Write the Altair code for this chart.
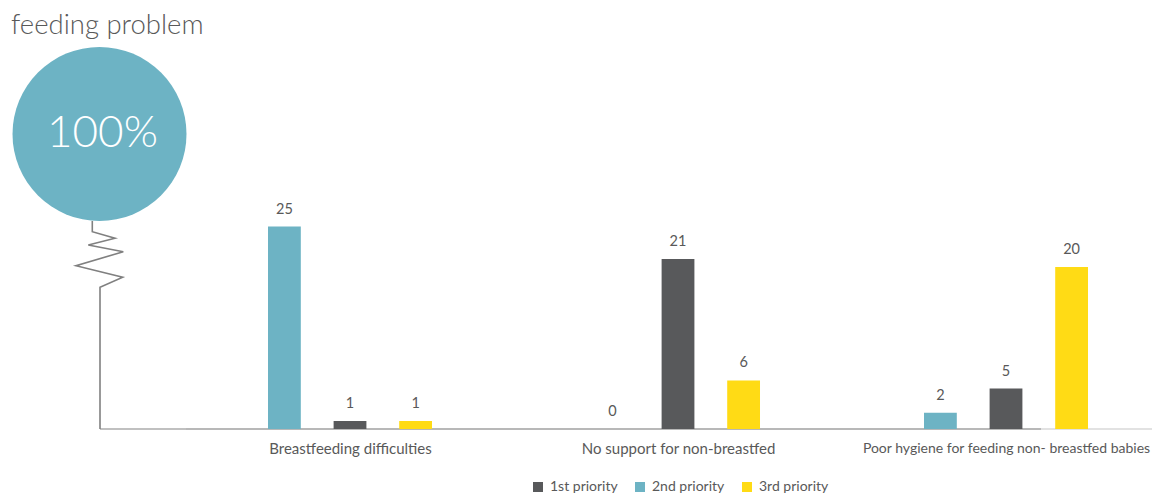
import altair as alt
import pandas as pd

# ---------------- data ----------------
categories = [
    "Breastfeeding difficulties",
    "No support for non-breastfed",
    "Poor hygiene for feeding non- breastfed babies",
]
priorities = ["1st priority", "2nd priority", "3rd priority"]
first_priority = [1, 21, 5]
second_priority = [25, 0, 2]
third_priority = [1, 6, 20]
title_text = "feeding problem"
badge_text = "100%"

# decorative "balloon" (circle + spring) in page pixel units
spring_x = [92.3, 92.3, 115, 88.3, 123.3, 76, 122.7, 100, 100]
spring_y = [221, 231.7, 238.3, 245, 251.7, 265.7, 277.3, 287.3, 429]

# ---------------- layout / style ----------------
W, H = 1144, 421
PAD_BOTTOM = 66
slot = {"2nd priority": -1, "1st priority": 0, "3rd priority": 1}
SLOT_W = 0.2
BAR_HALF = 0.05
X_DOMAIN = [-1.0427, 2.4451]
Y_DOMAIN = [0, 52]
TEAL = "#6db3c4"
DARK = "#58595b"
YELLOW = "#ffdb15"
TEXT = "#595959"
FONT = "Lato"

rows = []
series = [first_priority, second_priority, third_priority]
for gi, cat in enumerate(categories):
    for p, vals in zip(priorities, series):
        rows.append({"category": cat, "gi": gi, "priority": p,
                     "value": vals[gi], "slot": slot[p]})
df = pd.DataFrame(rows)

xs = alt.Scale(domain=X_DOMAIN, nice=False, zero=False)
ys = alt.Scale(domain=Y_DOMAIN, nice=False, zero=True)
dxs = alt.Scale(domain=[8, 8 + W], nice=False, zero=False)
dys = alt.Scale(domain=[8, 8 + H], nice=False, zero=False, reverse=True)

base = alt.Chart(df).transform_calculate(
    xc=f"datum.gi + datum.slot * {SLOT_W}",
    x0=f"datum.gi + datum.slot * {SLOT_W} - {BAR_HALF}",
    x1=f"datum.gi + datum.slot * {SLOT_W} + {BAR_HALF}",
)

label_expr = "[" + ",".join(f"'{c}'" for c in categories) + "][datum.value]"

bars = base.mark_bar(opacity=1).encode(
    x=alt.X("x0:Q", scale=xs, axis=alt.Axis(
        values=[0, 1, 2], labelExpr=label_expr, domain=False, ticks=False,
        tickSize=0, grid=False, labelFlush=False, labelOverlap=False,
        labelLimit=0,
        labelFontSize={"condition": {"test": "datum.value == 2", "value": 14}, "value": 15},
        labelColor=TEXT, labelFont=FONT, labelPadding=12, title=None)),
    x2="x1:Q",
    y=alt.Y("value:Q", scale=ys, axis=None),
    y2=alt.datum(0),
    color=alt.Color("priority:N",
                    scale=alt.Scale(domain=priorities, range=[DARK, TEAL, YELLOW]),
                    legend=alt.Legend(orient="none", legendX=523, legendY=472,
                                      direction="horizontal", title=None,
                                      symbolType="square", symbolSize=100,
                                      symbolStrokeWidth=0,
                                      labelFontSize=14, labelColor=TEXT,
                                      labelFont=FONT, columnPadding=15,
                                      labelOffset=5)),
)

value_labels = base.mark_text(fontSize=14.5, color=TEXT, font=FONT,
                              baseline="alphabetic", dy=-13).encode(
    x=alt.X("xc:Q", scale=xs, axis=None),
    y=alt.Y("value:Q", scale=ys, axis=None),
    text="value:Q",
)

# decorations
spring_df = pd.DataFrame({"x": spring_x, "y": spring_y, "i": list(range(len(spring_x)))})
spring = alt.Chart(spring_df).mark_line(color="#808080", strokeWidth=1.6).encode(
    x=alt.X("x:Q", scale=dxs, axis=None),
    y=alt.Y("y:Q", scale=dys, axis=None),
    order="i:Q",
)

def seg(x0, x1, y, color):
    d = pd.DataFrame({"x": [x0], "x2": [x1], "y": [y]})
    return alt.Chart(d).mark_rule(color=color, strokeWidth=1.6).encode(
        x=alt.X("x:Q", scale=dxs, axis=None), x2="x2:Q",
        y=alt.Y("y:Q", scale=dys, axis=None))

base_left = seg(100, 186, 429, "#ababab")
base_mid = seg(186, 1041, 429, "#a0a0a0")
base_right = seg(1041, 1152, 429, "#d9d9d9")

circle_df = pd.DataFrame({"x": [99.5], "y": [134], "t": [badge_text]})
circle = alt.Chart(circle_df).mark_circle(color=TEAL, opacity=1, size=174 ** 2).encode(
    x=alt.X("x:Q", scale=dxs, axis=None),
    y=alt.Y("y:Q", scale=dys, axis=None),
)
badge = alt.Chart(circle_df).mark_text(color="white", fontSize=44, font=FONT,
                                       fontWeight=300, align="center",
                                       baseline="middle", dx=3).encode(
    x=alt.X("x:Q", scale=dxs, axis=None),
    y=alt.Y("y:Q", scale=dys, axis=None),
    text="t:N",
)

title_df = pd.DataFrame({"x": [11], "y": [34], "t": [title_text]})
title = alt.Chart(title_df).mark_text(color=TEXT, fontSize=27.5, font=FONT,
                                      fontWeight=300, align="left",
                                      baseline="alphabetic").encode(
    x=alt.X("x:Q", scale=dxs, axis=None),
    y=alt.Y("y:Q", scale=dys, axis=None),
    text="t:N",
)

chart = alt.layer(
    base_left, base_mid, base_right, spring, circle, badge, title,
    bars, value_labels,
).resolve_scale(x="independent", y="independent").properties(
    width=W, height=H,
    autosize=alt.AutoSizeParams(type="none"),
    padding={"left": 0, "top": 0, "right": 0, "bottom": PAD_BOTTOM},
).configure_view(stroke=None)

chart.save("out.html", embed_options={"renderer": "svg", "actions": False})
